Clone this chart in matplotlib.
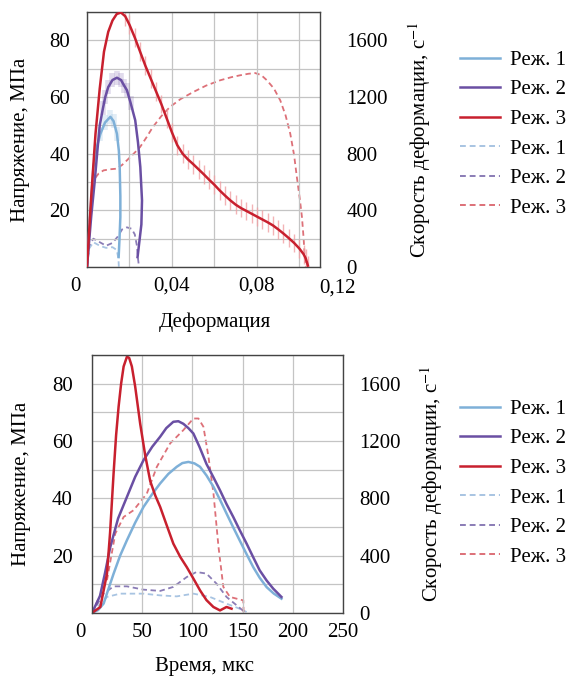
import numpy as np
import matplotlib
matplotlib.use("Agg")
import matplotlib.pyplot as plt
from matplotlib.lines import Line2D
from matplotlib.transforms import ScaledTranslation

plt.rcParams["font.family"] = ["Liberation Serif", "DejaVu Serif"]
plt.rcParams["mathtext.fontset"] = "stix"
plt.rcParams["font.size"] = 15

labels = ["Реж. 1", "Реж. 2", "Реж. 3"]
c_solid = ["#7eb0d8", "#6a4fa3", "#c8202e"]
c_dash = ["#a8c4e2", "#8a7cb6", "#dd7078"]

# --- stress-strain (top) ---
eps1 = [0, 0.0015, 0.003, 0.0045, 0.0063, 0.0085, 0.011, 0.0125, 0.0141, 0.015, 0.0154, 0.0157, 0.0157, 0.0153, 0.0149]
sig1 = [0, 18, 35, 42, 47, 51, 53, 51.5, 47, 41, 35, 25, 17.6, 10, 3.5]
eps2 = [0, 0.002, 0.0036, 0.005, 0.006, 0.0075, 0.0086, 0.010, 0.012, 0.0141, 0.016, 0.0175, 0.0188, 0.0205,
        0.0227, 0.024, 0.0251, 0.0259, 0.0256, 0.0251, 0.0238]
sig2 = [0, 18, 30, 42, 50, 56, 60, 63.5, 66, 66.8, 66, 64, 62.4, 58, 51.8, 44, 35.3, 23.5, 15, 11.8, 3.5]
eps3 = [0, 0.002, 0.004, 0.006, 0.008, 0.010, 0.012, 0.014, 0.016, 0.018, 0.020, 0.0225, 0.025, 0.0275,
        0.030, 0.0325, 0.035, 0.0375, 0.040, 0.0425, 0.045, 0.0475, 0.050, 0.0525, 0.055, 0.0575, 0.060,
        0.0625, 0.065, 0.0675, 0.070, 0.0725, 0.075, 0.0775, 0.080, 0.0825, 0.085, 0.0875, 0.090, 0.0925,
        0.095, 0.0975, 0.100, 0.102, 0.103, 0.104]
sig3 = [0, 25, 47, 63, 76, 83, 87, 89.3, 89.8, 88.5, 85.5, 81, 76, 71, 66.5, 62, 57.5, 52.5, 47.5, 43, 40,
        38, 36.3, 34.5, 32.7, 30.8, 29, 27, 25.2, 23.5, 22, 20.8, 19.8, 18.8, 17.8, 16.8, 15.8, 14.7, 13.3,
        11.8, 10.2, 8.5, 6.5, 4.5, 3, 0.5]

eps1_r = [0, 0.001, 0.003, 0.006, 0.009, 0.012, 0.014, 0.0148, 0.015]
rate1_e = [0, 130, 175, 150, 135, 140, 120, 60, 0]
eps2_r = [0, 0.001, 0.003, 0.006, 0.009, 0.012, 0.0145, 0.0165, 0.0188, 0.021, 0.0225, 0.0235, 0.024, 0.0245]
rate2_e = [0, 150, 200, 175, 150, 170, 215, 265, 280, 270, 230, 150, 60, 0]
eps3_r = [0, 0.0015, 0.003, 0.0055, 0.0078, 0.011, 0.014, 0.0165, 0.0188, 0.022, 0.025, 0.028, 0.031, 0.035,
          0.039, 0.044, 0.050, 0.056, 0.0627, 0.068, 0.072, 0.076, 0.0792, 0.082, 0.0847, 0.088, 0.091,
          0.0935, 0.0957, 0.0975, 0.0988, 0.1002, 0.1012, 0.102, 0.1027, 0.103]
rate3_e = [0, 400, 612, 660, 682, 690, 694, 720, 753, 800, 847, 915, 988, 1065, 1129, 1185, 1235, 1280, 1318,
           1340, 1353, 1364, 1369, 1355, 1318, 1260, 1176, 1070, 941, 790, 635, 480, 353, 200, 24, 0]

# --- time histories (bottom) ---
t1 = [0, 6, 11.6, 16, 21.5, 28, 34.8, 43, 51.3, 60, 67.9, 76, 84.4, 90, 96, 102, 107.6, 114, 121, 127.5, 134,
      140.5, 147, 154, 160.6, 167, 174, 181, 188.7]
s1 = [0, 1, 3.3, 8, 13.7, 20, 25.4, 31.5, 37, 41.5, 45.2, 48.5, 51, 52.3, 52.7, 52.2, 51, 48, 44, 39.5, 34.7,
      30, 25.4, 20.5, 16, 12.3, 9, 6.8, 5]
t2 = [0, 8, 13, 18.2, 26, 34.8, 43, 51.3, 60, 67.9, 74, 81, 86, 91, 96, 101, 107, 114, 121, 127.5, 134, 140.7,
      147, 154, 160.5, 167, 174, 180.5, 188.7]
s2 = [0, 6, 14, 23, 33, 40.5, 47.5, 53.3, 58, 61.5, 64.5, 66.7, 66.9, 66, 64.5, 62.6, 58, 52, 47.3, 42.8, 38,
      33.5, 29, 24.2, 19.5, 14.9, 11.3, 8.5, 5.6]
t3 = [0, 8.3, 14.9, 18, 21.5, 24, 26.5, 29, 31.5, 34.8, 37, 39.7, 43, 48, 53, 58, 63, 67.9, 74, 81, 88, 94.4,
      101, 107.6, 114, 120.9, 127.5, 134, 139]
s3 = [0, 2.1, 13.7, 28, 48.7, 62, 72, 80, 86, 89.4, 89, 86, 79, 66, 55, 46, 41, 37, 31, 24.2, 19.5, 16, 12,
      7.9, 4.5, 2.1, 0.9, 2.1, 1.5]

tr1 = [0, 14.9, 28, 51.3, 67.9, 84.4, 101, 117.5, 134, 147, 154]
r1 = [0, 112, 135, 135, 123, 116, 135, 112, 65, 30, 7]
tr2 = [0, 11.6, 21.5, 34.8, 51.3, 67.9, 81, 94.4, 104, 114, 124, 134, 144, 152]
r2 = [0, 135, 186, 186, 163, 154, 182, 251, 286, 275, 205, 112, 54, 7]
tr3 = [0, 14.9, 23.2, 31.5, 41.4, 54.6, 64.6, 77.8, 91, 101, 106, 111, 116, 121, 126, 130.8, 137.4, 144,
       150.7, 151]
r3 = [0, 228, 554, 670, 717, 833, 1020, 1183, 1276, 1357, 1357, 1299, 1090, 833, 461, 182, 112, 100, 88, 0]

W, H = 573, 677
fig = plt.figure(figsize=(W / 100, H / 100), dpi=100)


def setup(ax, xlim, xgrid, xlabels, rpad, lpad):
    ax.set_xlim(*xlim)
    ax.set_ylim(0, 90)
    ax.set_xticks(xgrid)
    ax.set_xticklabels(xlabels)
    ax.set_yticks(np.arange(0, 91, 10))
    ax.set_yticklabels(["" if v % 20 or v == 0 else str(v) for v in range(0, 91, 10)])
    ax.grid(True, color="#c4c4c4", lw=0.9)
    ax.tick_params(length=0, pad=lpad)
    ax.tick_params(axis="x", pad=7)
    for s in ax.spines.values():
        s.set_color("#444444")
        s.set_linewidth(1.0)
    # the "0" of the x axis sits a little left of the origin
    lab0 = ax.get_xticklabels()[0]
    lab0.set_transform(lab0.get_transform() + ScaledTranslation(-12 / 100, 0, fig.dpi_scale_trans))
    ax.set_ylabel("Напряжение, МПа")
    ax2 = ax.twinx()
    ax2.set_ylim(0, 1800)
    ax2.set_yticks([0, 400, 800, 1200, 1600])
    ax2.tick_params(length=0, pad=rpad)
    for s in ax2.spines.values():
        s.set_visible(False)
    ax2.set_ylabel("Скорость деформации, с$^{-1}$")
    return ax2


def legend(ypix):
    hs = [Line2D([], [], color=c, lw=1.8) for c in c_solid]
    hs += [Line2D([], [], color=c, lw=1.4, ls=(0, (3, 2))) for c in c_dash]
    fig.legend(hs, labels * 2, loc="center left", bbox_to_anchor=(460 / W, 1 - ypix / H),
               frameon=False, borderpad=0, borderaxespad=0, handlelength=1.9,
               handletextpad=0.5, labelspacing=0.48)


# top panel
ax = fig.add_axes([87 / W, 1 - 267 / H, 233 / W, 255 / H])
top_grid = np.arange(0, 0.1101, 0.02)
top_labels = ["0", "", "0,04", "", "0,08", ""]
ax2 = setup(ax, (0, 0.1097), top_grid, top_labels, rpad=19, lpad=12)
ax.text(0.1178, -0.045, "0,12", transform=ax.get_xaxis_transform(), ha="center", va="top")
ax.set_xlabel("Деформация")
ax.xaxis.set_label_coords(0.55, -0.18)
ax.yaxis.set_label_coords(-0.245, 0.5)
ax2.yaxis.set_label_coords(1.37, 0.5)

sel = [i for i, v in enumerate(sig1) if v > 44]
ax.errorbar([eps1[i] for i in sel], [sig1[i] for i in sel], yerr=2.5, fmt="none",
            ecolor=c_solid[0], alpha=0.22, elinewidth=4)
sel = [i for i, v in enumerate(sig2) if v > 55]
ax.errorbar([eps2[i] for i in sel], [sig2[i] for i in sel], yerr=2.5, fmt="none",
            ecolor=c_solid[1], alpha=0.2, elinewidth=4)
ax.errorbar(eps3[9:], sig3[9:], yerr=3.3, fmt="none", ecolor="#f0a0a4", alpha=0.8, elinewidth=1.0)
ax2.plot(eps1_r, rate1_e, color=c_dash[0], lw=1.3, ls=(0, (3, 2)))
ax2.plot(eps2_r, rate2_e, color=c_dash[1], lw=1.3, ls=(0, (3, 2)))
ax2.plot(eps3_r, rate3_e, color=c_dash[2], lw=1.3, ls=(0, (3, 2)))
ax.plot(eps1, sig1, color=c_solid[0], lw=1.8, zorder=4)
ax.plot(eps2, sig2, color=c_solid[1], lw=1.8, zorder=4)
ax.plot(eps3, sig3, color=c_solid[2], lw=1.8, zorder=4)
ax.set_zorder(ax2.get_zorder() + 1)
ax.patch.set_visible(False)
legend(134)

# bottom panel
bx = fig.add_axes([92 / W, 1 - 613 / H, 251 / W, 258 / H])
bx2 = setup(bx, (0, 250), np.arange(0, 251, 50), ["0", "50", "100", "150", "200", "250"], rpad=12, lpad=14)
bx.set_xlabel("Время, мкс")
bx.xaxis.set_label_coords(0.45, -0.17)
bx.yaxis.set_label_coords(-0.245, 0.5)
bx2.yaxis.set_label_coords(1.3, 0.5)
bx2.plot(tr1, r1, color=c_dash[0], lw=1.3, ls=(0, (3, 2)))
bx2.plot(tr2, r2, color=c_dash[1], lw=1.3, ls=(0, (3, 2)))
bx2.plot(tr3, r3, color=c_dash[2], lw=1.3, ls=(0, (3, 2)))
bx.plot(t1, s1, color=c_solid[0], lw=1.8)
bx.plot(t2, s2, color=c_solid[1], lw=1.8)
bx.plot(t3, s3, color=c_solid[2], lw=1.8)
bx.set_zorder(bx2.get_zorder() + 1)
bx.patch.set_visible(False)
legend(483)

fig.savefig("out.png", dpi=100)
